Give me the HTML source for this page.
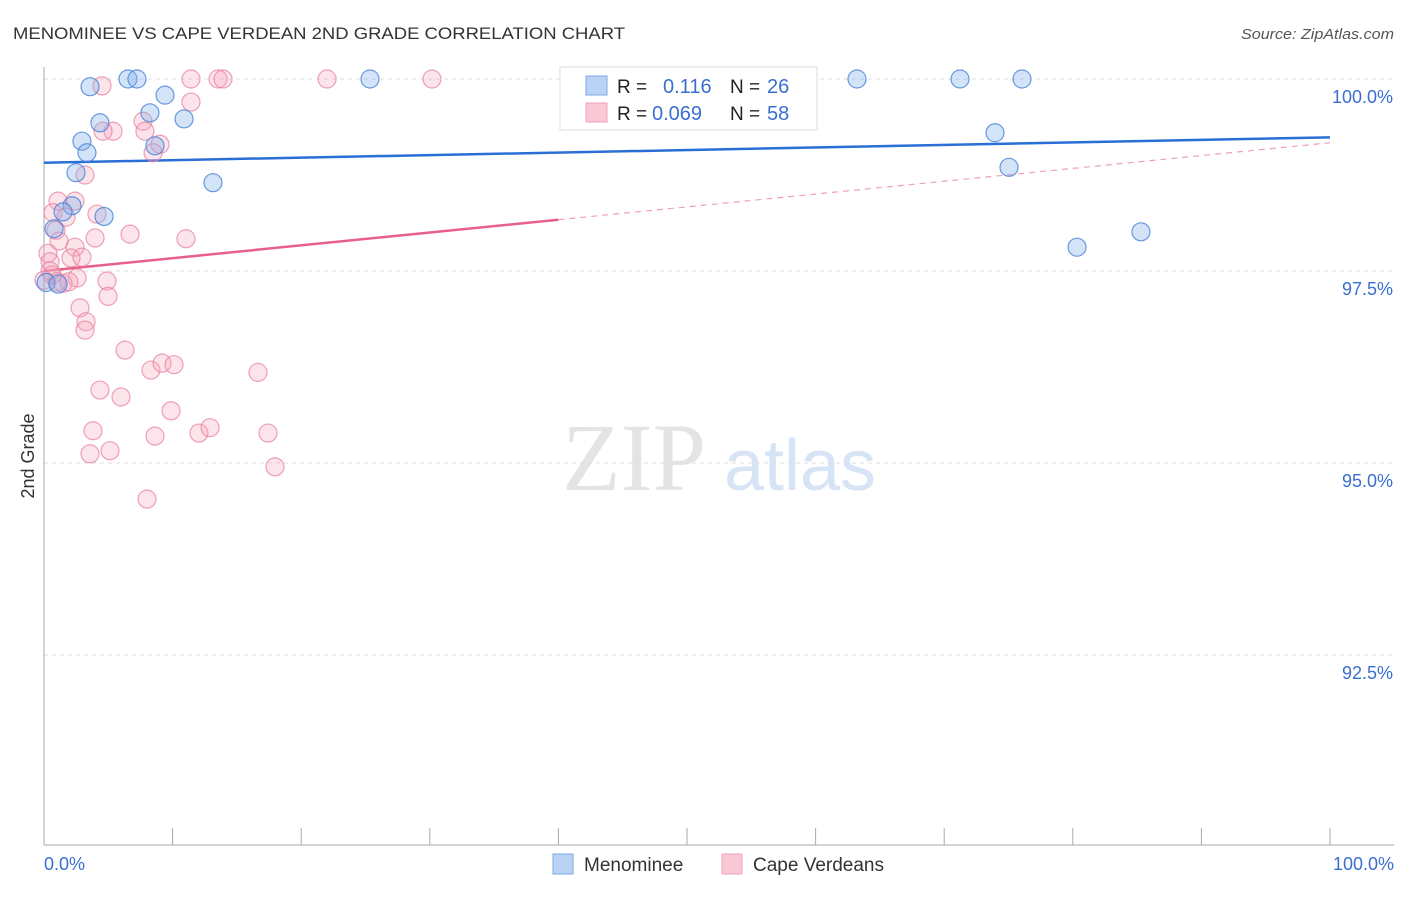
<!DOCTYPE html>
<html><head><meta charset="utf-8"><style>
body{margin:0;background:#fff;font-family:"Liberation Sans",sans-serif;}
svg text{font-family:"Liberation Sans",sans-serif;}
</style></head><body>
<svg id="chart" width="1406" height="892" xmlns="http://www.w3.org/2000/svg">
<text x="13" y="39" font-size="17" fill="#333" textLength="612" lengthAdjust="spacingAndGlyphs">MENOMINEE VS CAPE VERDEAN 2ND GRADE CORRELATION CHART</text>
<text x="1241" y="39" font-size="15" fill="#555" font-style="italic" textLength="153" lengthAdjust="spacingAndGlyphs">Source: ZipAtlas.com</text>
<text x="34" y="456" font-size="18" fill="#333" text-anchor="middle" transform="rotate(-90 34 456)">2nd Grade</text>
<g>
<text x="634" y="490" font-size="96" fill="#e4e4e4" text-anchor="middle" font-family="Liberation Serif" style="font-family:'Liberation Serif',serif">ZIP</text>
<text x="800" y="490" font-size="72" fill="#d6e4f5" text-anchor="middle">atlas</text>
</g>
<g id="grid"></g><g id="axes"></g><g id="trends"></g><g id="points"></g>
<g>
<rect x="560" y="67" width="257" height="63" fill="#fff" stroke="#ddd"/>
<rect x="586" y="76" width="21" height="19" fill="#b9d3f5" stroke="#7aa8e6"/>
<rect x="586" y="103" width="21" height="19" fill="#fac8d6" stroke="#f0a0b8"/>
<text x="617" y="93" font-size="19" fill="#222">R =</text><text x="663" y="93" font-size="20" fill="#3a6fd0">0.116</text>
<text x="730" y="93" font-size="19" fill="#222">N =</text><text x="767" y="93" font-size="20" fill="#3a6fd0">26</text>
<text x="617" y="120" font-size="19" fill="#222">R =</text><text x="652" y="120" font-size="20" fill="#3a6fd0">0.069</text>
<text x="730" y="120" font-size="19" fill="#222">N =</text><text x="767" y="120" font-size="20" fill="#3a6fd0">58</text>
</g>
<g>
<rect x="553" y="854" width="20" height="20" fill="#b9d3f5" stroke="#7aa8e6"/>
<text x="584" y="871" font-size="19" fill="#333">Menominee</text>
<rect x="722" y="854" width="20" height="20" fill="#fac8d6" stroke="#f0a0b8"/>
<text x="753" y="871" font-size="19" fill="#333">Cape Verdeans</text>
</g>
</svg>
<script>
const yTicks=[100,97.5,95,92.5];
const yTickLabels=["100.0%","97.5%","95.0%","92.5%"];
const xTickVals=[0,10,20,30,40,50,60,70,80,90,100];
const blueX=[3.58,6.53,7.23,9.41,8.24,10.89,4.35,2.95,3.34,8.63,2.49,13.14,2.18,4.67,1.48,0.78,0.16,1.09,25.35,63.22,71.23,76.05,73.95,75.04,80.33,85.30];
const blueY=[99.90,100,100,99.79,99.56,99.48,99.43,99.19,99.04,99.13,98.78,98.65,98.35,98.21,98.27,98.05,97.35,97.33,100,100,100,100,99.30,98.85,97.81,98.01];
const pinkX=[4.51,11.43,13.53,13.92,22.01,30.17,11.43,5.37,4.59,7.70,7.85,9.02,8.48,3.19,1.09,2.41,0.70,1.71,4.12,0.93,6.69,11.04,1.17,3.97,2.41,0.31,2.10,2.95,0.47,0.62,4.90,2.57,1.48,1.94,4.98,2.80,3.27,3.19,6.30,4.35,5.99,8.32,9.18,10.11,16.64,9.88,3.81,8.63,12.05,12.91,17.42,3.58,5.13,17.96,8.01,0.47,1.01,0.0];
const pinkY=[99.91,100,100,100,100,100,99.70,99.32,99.32,99.45,99.32,99.15,99.04,98.75,98.41,98.41,98.26,98.20,98.24,98.03,97.98,97.92,97.89,97.93,97.81,97.73,97.67,97.68,97.62,97.45,97.37,97.41,97.34,97.36,97.17,97.02,96.84,96.73,96.47,95.95,95.86,96.21,96.30,96.28,96.18,95.68,95.42,95.35,95.39,95.46,95.39,95.12,95.16,94.95,94.53,97.50,97.36,97.38];
const blueTrend=[98.91,99.24];
const pinkTrend=[97.50,99.17];
const pinkSolidEnd=40;
const X=v=>44+v*12.86, Y=v=>79+(100-v)*76.8;
const NS="http://www.w3.org/2000/svg";
function mk(tag,attrs,parent){const e=document.createElementNS(NS,tag);for(const k in attrs)e.setAttribute(k,attrs[k]);parent.appendChild(e);return e;}
const grid=document.getElementById('grid'),axes=document.getElementById('axes'),tr=document.getElementById('trends'),pts=document.getElementById('points');
yTicks.forEach((t,i)=>{
 const l=mk('line',{x1:44,x2:1394,y1:Y(t),y2:Y(t),stroke:'#ddd','stroke-dasharray':'4,4'},grid);
 
 
 const tx=mk('text',{x:1393,y:Y(t)+24,'font-size':18,fill:'#3a6fd0','text-anchor':'end'},grid);tx.textContent=yTickLabels[i];
 
 
});
const ya=mk('line',{x1:44,x2:44,y1:67,y2:845,stroke:'#aaa'},axes);


const xa=mk('line',{x1:44,x2:1394,y1:845,y2:845,stroke:'#aaa'},axes);


xTickVals.forEach(v=>{const t=mk('line',{x1:X(v),x2:X(v),y1:828,y2:845,stroke:'#aaa'},axes);
 
 });
const xl0=mk('text',{x:44,y:870,'font-size':18,fill:'#3a6fd0'},axes);xl0.textContent='0.0%';


const xl1=mk('text',{x:1394,y:870,'font-size':18,fill:'#3a6fd0','text-anchor':'end'},axes);xl1.textContent='100.0%';


function circ(xs,ys,fill,stroke,name){xs.forEach((x,i)=>{const c=mk('circle',{cx:X(x),cy:Y(ys[i]),r:9,fill:fill,stroke:stroke,'stroke-width':1.2},pts);
 
 });}
circ(pinkX,pinkY,'rgba(246,165,190,0.3)','rgba(232,130,160,0.75)','point-cape-verdeans');
circ(blueX,blueY,'rgba(130,175,235,0.35)','rgba(70,130,215,0.8)','point-menominee');
const pAt=v=>pinkTrend[0]+(pinkTrend[1]-pinkTrend[0])*v/100;
const bt=mk('line',{x1:X(0),y1:Y(blueTrend[0]),x2:X(100),y2:Y(blueTrend[1]),stroke:'#2a6fd6','stroke-width':2.5},tr);


const ps=mk('line',{x1:X(0),y1:Y(pAt(0)),x2:X(pinkSolidEnd),y2:Y(pAt(pinkSolidEnd)),stroke:'#e8608a','stroke-width':2.5},tr);


const pd=mk('line',{x1:X(pinkSolidEnd),y1:Y(pAt(pinkSolidEnd)),x2:X(100),y2:Y(pAt(100)),stroke:'#eea0b8','stroke-width':1.2,'stroke-dasharray':'6,5'},tr);


</script>
</body></html>
